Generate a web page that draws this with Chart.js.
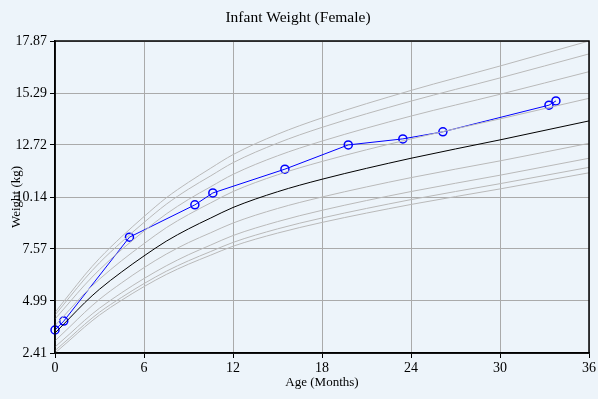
<!DOCTYPE html>
<html>
<head>
<meta charset="utf-8">
<script src="https://cdn.jsdelivr.net/npm/chart.js@4/dist/chart.umd.min.js"></script>
<style>
  html, body { margin: 0; padding: 0; background: #edf4fa; }
  #wrap { width: 598px; height: 399px; position: relative; }
</style>
</head>
<body>
<div id="wrap"><canvas id="chart"></canvas></div>
<script>
// percentile curves (kg) by age in months
const ages = [0, 1, 2, 3, 4.5, 6, 7.5, 9, 10.5, 12, 15, 18, 24, 30, 36];
const p3  = [2.41, 3.05, 3.70, 4.29, 5.03, 5.70, 6.30, 6.81, 7.26, 7.70, 8.35, 8.88, 9.77, 10.54, 11.34];
const p5  = [2.53, 3.17, 3.83, 4.43, 5.17, 5.85, 6.46, 6.98, 7.44, 7.89, 8.56, 9.10, 10.01, 10.80, 11.61];
const p10 = [2.71, 3.36, 4.03, 4.63, 5.40, 6.10, 6.73, 7.28, 7.76, 8.23, 8.92, 9.48, 10.41, 11.22, 12.06];
const p25 = [3.01, 3.71, 4.42, 5.07, 5.89, 6.64, 7.31, 7.88, 8.37, 8.85, 9.57, 10.14, 11.10, 11.93, 12.80];
const p50 = [3.40, 4.15, 4.90, 5.57, 6.43, 7.22, 7.95, 8.56, 9.10, 9.62, 10.40, 11.02, 12.06, 12.97, 13.91];
const p75 = [3.77, 4.57, 5.37, 6.07, 6.99, 7.83, 8.62, 9.27, 9.85, 10.41, 11.24, 11.90, 13.02, 14.01, 15.03];
const p90 = [4.09, 4.94, 5.78, 6.54, 7.54, 8.45, 9.30, 10.02, 10.65, 11.26, 12.18, 12.91, 14.15, 15.23, 16.35];
const p95 = [4.29, 5.19, 6.08, 6.88, 7.92, 8.88, 9.78, 10.53, 11.19, 11.84, 12.81, 13.59, 14.89, 16.04, 17.23];
const p97 = [4.42, 5.35, 6.27, 7.10, 8.18, 9.17, 10.10, 10.87, 11.57, 12.24, 13.25, 14.06, 15.42, 16.63, 17.87];

// measured child
const childAge    = [0, 0.59, 5.02, 9.43, 10.64, 15.5, 19.77, 23.45, 26.15, 33.3, 33.77];
const childWeight = [3.55, 3.99, 8.15, 9.75, 10.34, 11.52, 12.72, 13.02, 13.37, 14.69, 14.90];

const xTicks = [0, 6, 12, 18, 24, 30, 36];
const yTicks = [2.41, 4.99, 7.57, 10.14, 12.72, 15.29, 17.87];

const FONT = '"Liberation Serif", "DejaVu Serif", serif';

function curve(vals, color) {
  return {
    data: ages.map((a, i) => ({ x: a, y: vals[i] })),
    borderColor: color,
    borderWidth: 1,
    pointRadius: 0,
    cubicInterpolationMode: "monotone",
    fill: false
  };
}

const grayLines = [p3, p5, p10, p25, p75, p90, p95, p97].map(v => curve(v, "#b9b9b9"));

// title, axis titles, frame
const decor = {
  id: "decor",
  afterDatasetsDraw(chart) {
    const { ctx, chartArea: a } = chart;
    ctx.save();
    ctx.strokeStyle = "#000";
    ctx.lineWidth = 1.5;
    ctx.strokeRect(a.left, a.top, a.right - a.left, a.bottom - a.top);
    ctx.fillStyle = "#000";
    ctx.textAlign = "center";
    ctx.textBaseline = "middle";
    ctx.font = "15.5px " + FONT;
    ctx.fillText("Infant Weight (Female)", 298, 18);
    ctx.font = "13px " + FONT;
    ctx.fillText("Age (Months)", (a.left + a.right) / 2, 383);
    ctx.translate(17, (a.top + a.bottom) / 2);
    ctx.rotate(-Math.PI / 2);
    ctx.fillText("Weight (kg)", 0, 0);
    ctx.restore();
  }
};

new Chart(document.getElementById("chart"), {
  type: "line",
  data: {
    datasets: [
      ...grayLines,
      curve(p50, "#000000"),
      {
        data: childAge.map((a, i) => ({ x: a, y: childWeight[i] })),
        borderColor: "#0000ff",
        borderWidth: 1,
        tension: 0,
        pointStyle: "circle",
        pointRadius: 4,
        pointBorderWidth: 1.5,
        pointBorderColor: "#0000ff",
        pointBackgroundColor: "rgba(0,0,0,0)",
        clip: false
      }
    ]
  },
  options: {
    responsive: true,
    maintainAspectRatio: false,
    animation: false,
    layout: { padding: { top: 41, right: 9, bottom: 0, left: 0 } },
    plugins: { legend: { display: false }, title: { display: false }, tooltip: { enabled: false } },
    scales: {
      x: {
        type: "linear",
        min: 0,
        max: 36,
        afterBuildTicks: s => { s.ticks = xTicks.map(v => ({ value: v })); },
        afterFit: s => { s.height = 46; },
        grid: { color: "#aaaaaa", tickColor: "#000", tickLength: 5, lineWidth: 1 },
        border: { color: "#000", width: 1.5 },
        ticks: { color: "#000", font: { family: FONT, size: 14 }, padding: 2, maxRotation: 0 }
      },
      y: {
        type: "linear",
        min: 2.41,
        max: 17.87,
        afterBuildTicks: s => { s.ticks = yTicks.map(v => ({ value: v })); },
        afterFit: s => { s.width = 55; },
        grid: { color: "#aaaaaa", tickColor: "#000", tickLength: 5, lineWidth: 1 },
        border: { color: "#000", width: 1.5 },
        ticks: { color: "#000", font: { family: FONT, size: 14 }, padding: 3, callback: v => v.toFixed(2) }
      }
    }
  },
  plugins: [decor]
});
</script>
</body>
</html>
